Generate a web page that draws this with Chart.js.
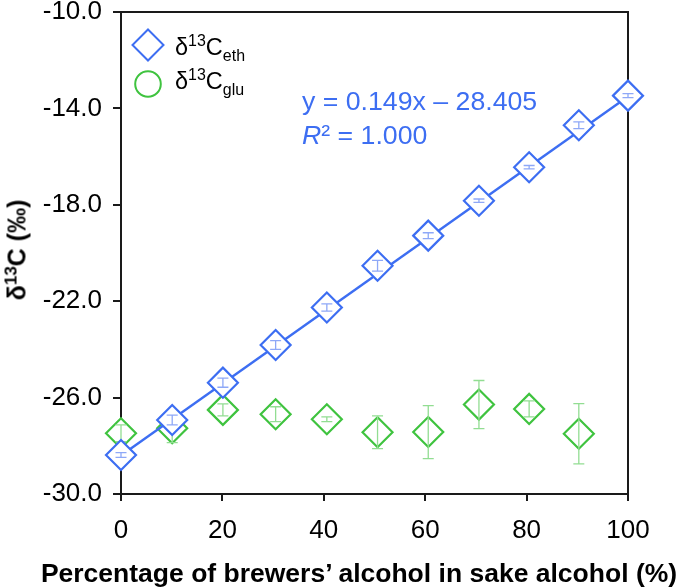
<!DOCTYPE html>
<html>
<head>
<meta charset="utf-8">
<script src="https://cdn.jsdelivr.net/npm/chart.js@4.4.0/dist/chart.umd.min.js"></script>
<style>
  html, body { margin: 0; padding: 0; background: #fff; }
  #wrap { position: relative; width: 685px; height: 588px; overflow: hidden; font-family: 'Liberation Sans', Arial, sans-serif; color: #000; }
  #chart { position: absolute; left: 0; top: 0; }
  .txt { position: absolute; white-space: nowrap; line-height: 1; }
  .txt sup, .txt sub { font-size: 0.68em; line-height: 0; }
  .mark { position: absolute; }
</style>
</head>
<body>
<div id="wrap">
  <canvas id="chart" width="685" height="588"></canvas>

  <!-- legend -->
  <svg class="mark" style="left:131px; top:28px" width="34" height="34"><polygon points="17,1.5 32.5,17 17,32.5 1.5,17" fill="#fff" stroke="#3d6ef2" stroke-width="2"/></svg>
  <svg class="mark" style="left:131px; top:67px" width="34" height="34"><circle cx="17" cy="17" r="12.8" fill="#fff" stroke="#3fc33f" stroke-width="2"/></svg>
  <div class="txt" style="left:175px; top:36px; font-size:23.5px">δ<sup>13</sup>C<sub>eth</sub></div>
  <div class="txt" style="left:175px; top:70px; font-size:23.5px">δ<sup>13</sup>C<sub>glu</sub></div>

  <!-- fit equation -->
  <div class="txt" style="left:302px; top:88px; font-size:26.7px; color:#3d6ef2">y = 0.149x – 28.405</div>
  <div class="txt" style="left:302px; top:122px; font-size:26.7px; color:#3d6ef2"><i>R</i>² = 1.000</div>

  <!-- axis titles -->
  <div class="txt" style="left:17px; top:250px; font-size:25px; font-weight:bold; transform:translate(-50%,-50%) rotate(-90deg)">δ<sup>13</sup>C (‰)</div>
  <div class="txt" style="left:359px; top:560px; font-size:26.5px; font-weight:bold; transform:translateX(-50%)">Percentage of brewers’ alcohol in sake alcohol (%)</div>
</div>

<script>
// ── Data ──────────────────────────────────────────────────────────────────────

const pctAlcohol  = [0, 10.1, 20.1, 30.5, 40.6, 50.6, 60.6, 70.6, 80.5, 90.3, 100];
const d13cEth     = [-28.38, -26.93, -25.38, -23.82, -22.26, -20.53, -19.28, -17.83, -16.44, -14.70, -13.47];
const d13cEthErr  = [0.10, 0.20, 0.19, 0.18, 0.15, 0.22, 0.12, 0.07, 0.07, 0.14, 0.08];
const d13cGlu     = [-27.48, -27.27, -26.51, -26.69, -26.90, -27.44, -27.43, -26.29, -26.47, -27.50];
const d13cGluErr  = [0.35, 0.60, 0.25, 0.31, 0.10, 0.68, 1.10, 1.00, 0.33, 1.25];
const fitX        = [0, 100];
const fitY        = [-28.405, -13.505];
const xTicks      = [0, 20, 40, 60, 80, 100];
const yTicks      = [-30, -26, -22, -18, -14, -10];

const BLUE       = '#3d6ef2';
const BLUE_ERR   = '#8ea8f7';
const GREEN      = '#3fc33f';
const GREEN_ERR  = '#92dd92';
const AXIS       = '#1a1a1a';

const toPoints = (xs, ys) => ys.map((y, i) => ({ x: xs[i], y }));

// ── Plugins ───────────────────────────────────────────────────────────────────

function drawErrors(chart, meta, errs, color) {
  const ctx = chart.ctx;
  const y = chart.scales.y;
  ctx.save();
  ctx.strokeStyle = color;
  ctx.lineWidth = 1.3;
  meta.data.forEach((pt, i) => {
    const raw = meta._parsed[i];
    const top = y.getPixelForValue(raw.y + errs[i]);
    const bot = y.getPixelForValue(raw.y - errs[i]);
    const cap = 5.5;
    ctx.beginPath();
    ctx.moveTo(pt.x, top); ctx.lineTo(pt.x, bot);
    ctx.moveTo(pt.x - cap, top); ctx.lineTo(pt.x + cap, top);
    ctx.moveTo(pt.x - cap, bot); ctx.lineTo(pt.x + cap, bot);
    ctx.stroke();
  });
  ctx.restore();
}

const errorBars = {
  id: 'errorBars',
  afterDatasetDraw(chart, args) {
    if (args.index === 2) drawErrors(chart, args.meta, d13cGluErr, GREEN_ERR);
    if (args.index === 0) drawErrors(chart, args.meta, d13cEthErr, BLUE_ERR);
  }
};

const frame = {
  id: 'frame',
  beforeDatasetsDraw(chart) {
    const { ctx, chartArea: a } = chart;
    ctx.save();
    ctx.strokeStyle = AXIS;
    ctx.lineWidth = 2;
    ctx.strokeRect(a.left, a.top, a.right - a.left, a.bottom - a.top);
    ctx.restore();
  }
};

// ── Chart ─────────────────────────────────────────────────────────────────────

const tickFont = { family: "'Liberation Sans', Arial, sans-serif", size: 26, lineHeight: 1 };

new Chart(document.getElementById('chart'), {
  type: 'scatter',
  data: {
    datasets: [
      {
        label: 'eth',
        data: toPoints(pctAlcohol, d13cEth),
        pointStyle: 'rectRot',
        pointRadius: 15,
        pointHoverRadius: 15,
        borderColor: BLUE,
        backgroundColor: '#fff',
        borderWidth: 2.2,
        clip: false
      },
      {
        label: 'fit',
        data: toPoints(fitX, fitY),
        showLine: true,
        pointRadius: 0,
        borderColor: BLUE,
        borderWidth: 2.4,
        clip: false
      },
      {
        label: 'glu',
        data: toPoints(pctAlcohol, d13cGlu),
        pointStyle: 'rectRot',
        pointRadius: 15,
        pointHoverRadius: 15,
        borderColor: GREEN,
        backgroundColor: '#fff',
        borderWidth: 2.2,
        clip: false
      }
    ]
  },
  options: {
    responsive: false,
    animation: false,
    layout: { autoPadding: false, padding: { left: 0, top: 12, right: 57, bottom: 0 } },
    plugins: { legend: { display: false }, tooltip: { enabled: false } },
    scales: {
      x: {
        type: 'linear', min: 0, max: 100,
        afterBuildTicks: s => { s.ticks = xTicks.map(v => ({ value: v })); },
        afterFit: s => { s.height = 94; s.paddingLeft = 0; s.paddingRight = 0; },
        grid: { drawOnChartArea: false, drawTicks: true, tickLength: 7, color: AXIS, lineWidth: 2 },
        border: { display: false },
        ticks: { color: '#000', font: tickFont, padding: 17, maxRotation: 0 }
      },
      y: {
        type: 'linear', min: -30, max: -10,
        afterBuildTicks: s => { s.ticks = yTicks.map(v => ({ value: v })); },
        afterFit: s => { s.width = 121; s.paddingTop = 0; s.paddingBottom = 0; },
        grid: { drawOnChartArea: false, drawTicks: true, tickLength: 8, color: AXIS, lineWidth: 2 },
        border: { display: false },
        ticks: { color: '#000', font: tickFont, padding: 11, callback: v => v.toFixed(1) }
      }
    }
  },
  plugins: [frame, errorBars]
});
</script>
</body>
</html>
